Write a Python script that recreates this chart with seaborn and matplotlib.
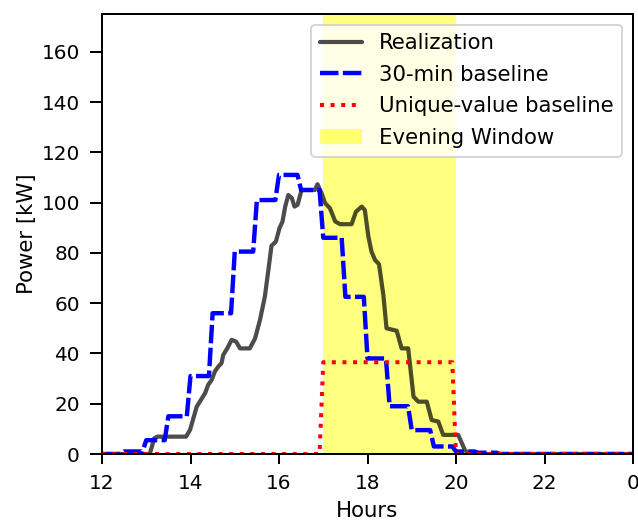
import numpy as np
import pandas as pd
import matplotlib
matplotlib.use("Agg")
import matplotlib.pyplot as plt
import seaborn as sns

# realization (hours, kW)
real_hours = [12.0, 13.08, 13.18, 13.25, 13.9, 13.99, 14.14, 14.21, 14.33, 14.40,
              14.48, 14.55, 14.63, 14.70, 14.74, 14.83, 14.93, 15.03, 15.12, 15.34,
              15.46, 15.57, 15.68, 15.76, 15.83, 15.93, 16.01, 16.08, 16.14, 16.21,
              16.29, 16.35, 16.42, 16.51, 16.81, 16.87, 16.96, 17.04, 17.15, 17.27,
              17.38, 17.64, 17.74, 17.87, 17.94, 18.02, 18.09, 18.17, 18.26, 18.36,
              18.43, 18.66, 18.77, 18.92, 19.04, 19.15, 19.34, 19.45, 19.60, 19.71,
              20.05, 20.20, 20.30, 24.0]
real_kw = [0.0, 0.0, 6.2, 6.9, 6.9, 9.6, 18.8, 20.8, 24.2, 27.5,
           29.5, 32.8, 34.8, 36.1, 39.4, 42.0, 45.4, 44.7, 42.0, 42.0,
           46.0, 53.3, 62.6, 73.2, 82.8, 84.5, 89.8, 92.5, 98.4, 103.0,
           101.8, 98.4, 99.1, 105.0, 105.0, 107.3, 103.8, 99.8, 97.8, 92.5,
           91.4, 91.4, 96.4, 98.4, 97.0, 86.5, 80.5, 77.2, 75.5, 63.0,
           50.0, 49.0, 42.0, 42.0, 22.8, 20.8, 20.8, 13.5, 12.9, 7.6,
           7.6, 1.6, 0.0, 0.0]

# 30-minute blocks from 12:00 to 23:30
baseline_30min = [0, 1, 5.5, 15, 31, 56, 80.5, 101, 111, 105, 86, 62.5,
                  38, 19, 9.5, 3, 1, 0.5, 0, 0, 0, 0, 0, 0]
baseline_unique = [0, 0, 0, 0, 0, 0, 0, 0, 0, 0, 36.5, 36.5,
                   36.5, 36.5, 36.5, 36.5, 0, 0, 0, 0, 0, 0, 0, 0]

window_start, window_end = 17, 20
xtick_pos = [12, 14, 16, 18, 20, 22, 24]
xtick_labels = ["12", "14", "16", "18", "20", "22", "0"]

# baselines are held over 5-min samples inside each 30-min block
steps = 6
t5 = np.append(np.arange(12.0, 24.0, 0.5 / steps), 24.0)
b30 = np.append(np.repeat(baseline_30min, steps), baseline_30min[-1])
buv = np.append(np.repeat(baseline_unique, steps), baseline_unique[-1])

sns.set_style("ticks", rc={
    "axes.edgecolor": "black", "xtick.color": "black", "ytick.color": "black",
    "text.color": "black", "axes.labelcolor": "black",
})
plt.rcParams["font.family"] = ["DejaVu Sans"]
plt.rcParams["font.size"] = 10
plt.rcParams["xtick.major.size"] = 5
plt.rcParams["ytick.major.size"] = 6
plt.rcParams["xtick.major.pad"] = 5
plt.rcParams["ytick.major.pad"] = 5
plt.rcParams["axes.linewidth"] = 1.0
plt.rcParams["xtick.major.width"] = 1.0
plt.rcParams["ytick.major.width"] = 1.0

fig = plt.figure(figsize=(638 / 144, 521 / 144), dpi=144)
ax = fig.add_axes([102 / 638, 1 - 454 / 521, 531 / 638, 440 / 521])

sns.lineplot(x=real_hours, y=real_kw, ax=ax, color="k", alpha=0.7, lw=2.1,
             label="Realization", sort=False)
sns.lineplot(x=t5, y=b30, ax=ax, color="b", lw=2.2, label="30-min baseline", sort=False)
sns.lineplot(x=t5, y=buv, ax=ax, color="r", lw=2.0, linestyle=":",
             label="Unique-value baseline", sort=False)
ax.lines[1].set_dashes((4.2, 1.0))
ax.axvspan(window_start, window_end, color="yellow", alpha=0.5, lw=0,
           label="Evening Window")

ax.set_xlim(12, 24)
ax.set_ylim(0, 175)
ax.set_xticks(xtick_pos)
ax.set_xticklabels(xtick_labels)
ax.set_yticks(range(0, 161, 20))
ax.set_xlabel("Hours", fontsize=10.6)
ax.set_ylabel("Power [kW]", fontsize=10.6, labelpad=2)
ax.legend(loc="upper right", fontsize=10.6, labelspacing=0.55)

fig.savefig("out.png", dpi=144)
